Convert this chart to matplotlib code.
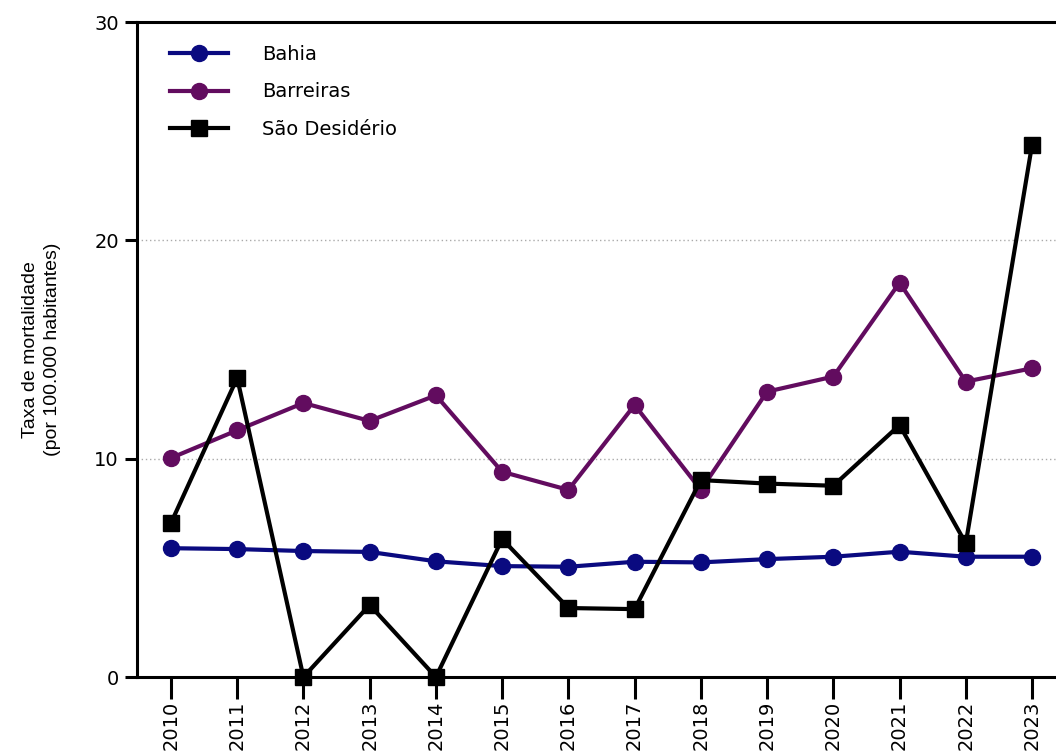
# Taxa de mortalidade - Bahia, Barreiras e São Desidério (2010-2023)

import matplotlib
matplotlib.use('Agg')
import matplotlib.pyplot as plt

# ------ Data ------
anos = [2010, 2011, 2012, 2013, 2014, 2015, 2016, 2017, 2018, 2019, 2020, 2021, 2022, 2023]
bahia = [5.9, 5.86, 5.77, 5.73, 5.3, 5.08, 5.05, 5.28, 5.25, 5.4, 5.51, 5.74, 5.51, 5.51]
barreiras = [10.03, 11.3, 12.55, 11.73, 12.9, 9.4, 8.57, 12.46, 8.57, 13.07, 13.76, 18.06, 13.53, 14.14]
sao_desiderio = [7.05, 13.7, 0.0, 3.3, 0.0, 6.32, 3.16, 3.11, 9.02, 8.86, 8.76, 11.54, 6.12, 24.37]
yticks = [0, 10, 20, 30]

plt.rcParams['font.family'] = 'DejaVu Sans'

fig = plt.figure(figsize=(10.56, 7.51), dpi=100)
ax = fig.add_axes([0.1297, 0.0985, 0.8703, 0.8722])

# grid lines
for v in [10, 20]:
    ax.axhline(v, color='#aaaaaa', lw=1, linestyle=(0, (1, 2)), zorder=0)

ax.plot(anos, bahia, color='#0a0a80', lw=3, marker='o', ms=11.5, label='Bahia', zorder=3)
ax.plot(anos, barreiras, color='#620c5f', lw=3, marker='o', ms=11.5, label='Barreiras', zorder=3)
ax.plot(anos, sao_desiderio, color='black', lw=3, marker='s', ms=11.5, label='São Desidério', zorder=4,
        clip_on=False)

ax.set_xlim(2009.487, 2023.362)
ax.set_ylim(0, 30)
ax.set_xticks(anos)
ax.set_xticklabels([str(a) for a in anos], rotation=90, fontsize=14)
ax.set_yticks(yticks)
ax.set_yticklabels([str(v) for v in yticks], fontsize=14)

for s in ['left', 'bottom', 'top']:
    ax.spines[s].set_linewidth(2.2)
ax.spines['right'].set_visible(False)
ax.tick_params(axis='y', direction='out', length=9, width=2.2, pad=4)
ax.tick_params(axis='x', direction='out', length=16, width=2.2, pad=1)

ax.set_ylabel('Taxa de mortalidade\n(por 100.000 habitantes)', fontsize=14,
              family='Liberation Sans', labelpad=24, linespacing=1.35)

ax.legend(loc='upper left', bbox_to_anchor=(33 / 919, 1 - 23 / 655), frameon=False,
          fontsize=14, handlelength=3, handletextpad=1.75, labelspacing=0.95,
          borderpad=0, borderaxespad=0)

plt.savefig('out.png', dpi=100)
